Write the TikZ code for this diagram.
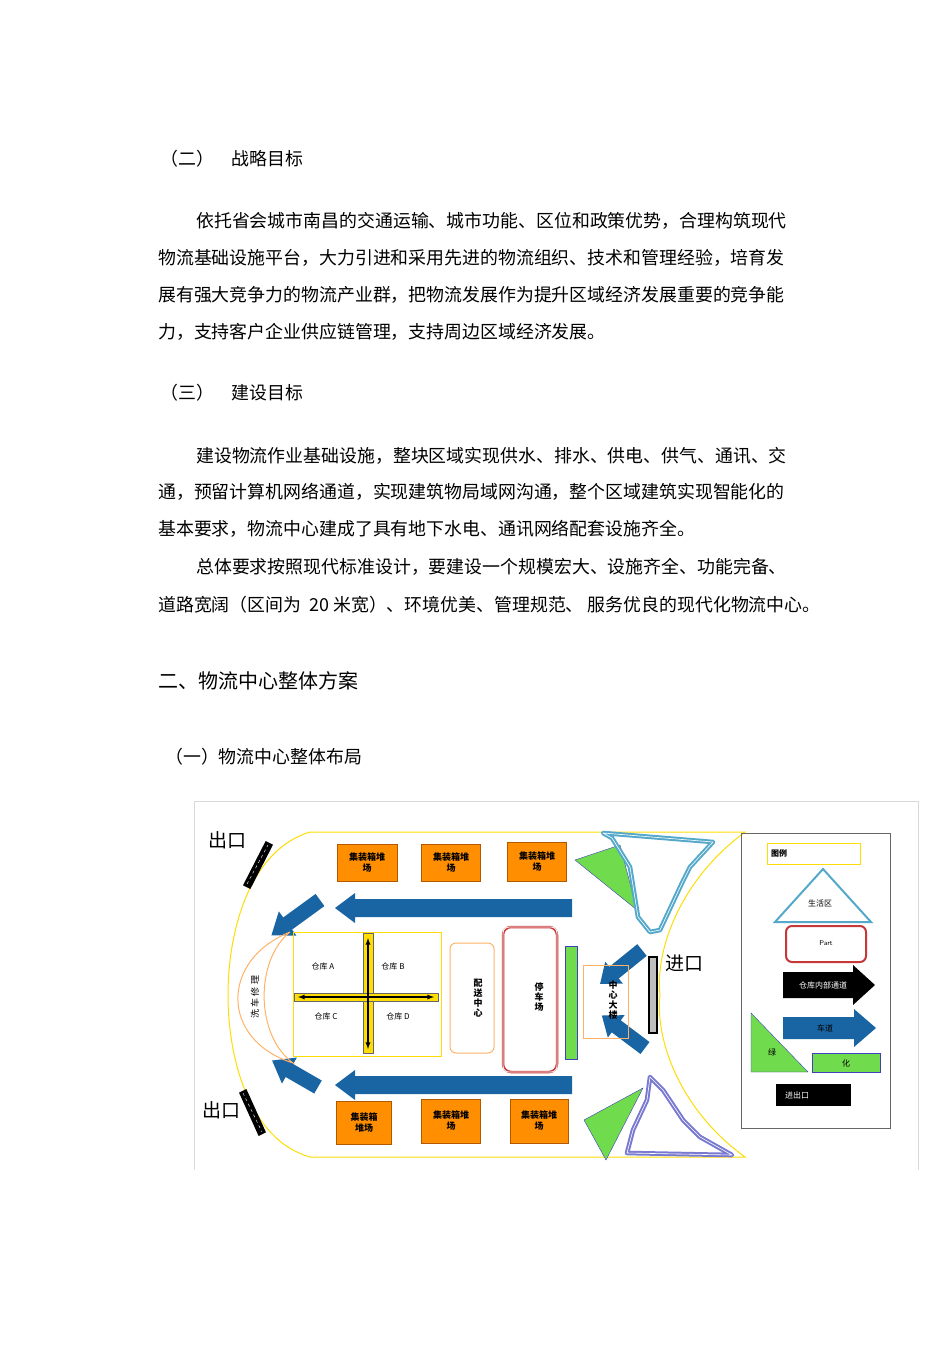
\documentclass[tikz,border=0pt]{standalone}
\usepackage{fontspec}
\setmainfont{Liberation Serif}
\newfontfamily\cjk{Noto Sans CJK SC}
\newcommand\blkarrow[8]{\fill[#8,shift={(#1,#2)},rotate=#3] (0,-#5/2) -- (#4-#7,-#5/2) -- (#4-#7,-#6/2) -- (#4,0) -- (#4-#7,#6/2) -- (#4-#7,#5/2) -- (0,#5/2) -- cycle;}
\begin{document}
\begin{tikzpicture}[x=1pt,y=-1pt,
 body/.style={anchor=west,inner sep=0,font=\cjk\fontsize{17.9}{20}\selectfont},
 box/.style={draw=orange!70!black,fill=orange!75!yellow!90!red,font=\cjk\bfseries\fontsize{9}{11}\selectfont,align=center,inner sep=0},
 ablue/.style={fill=blue!45!cyan!60!black!90},
 lbl/.style={font=\cjk\fontsize{8}{9}\selectfont,inner sep=0},
 bar/.style={draw=black,line width=1.5pt,fill=black},
 yl/.style={draw=yellow!80!orange,line width=1pt}]
\useasboundingbox (0,0) rectangle (950,1345);
\node[body] (t1) at (160,159) {（二）\quad 战略目标};
\node[body] (p1) at (196,221) {依托省会城市南昌的交通运输、城市功能、区位和政策优势，合理构筑现代};
\node[body] (p2) at (158,258) {物流基础设施平台，大力引进和采用先进的物流组织、技术和管理经验，培育发};
\node[body] (p3) at (158,295) {展有强大竞争力的物流产业群，把物流发展作为提升区域经济发展重要的竞争能};
\node[body] (p4) at (158,332) {力，支持客户企业供应链管理，支持周边区域经济发展。};
\node[body] (t2) at (160,393) {（三）\quad 建设目标};
\node[body] (q1) at (196,456) {建设物流作业基础设施，整块区域实现供水、排水、供电、供气、通讯、交};
\node[body] (q2) at (158,492) {通，预留计算机网络通道，实现建筑物局域网沟通，整个区域建筑实现智能化的};
\node[body] (q3) at (158,529) {基本要求，物流中心建成了具有地下水电、通讯网络配套设施齐全。};
\node[body] (q4) at (196,567) {总体要求按照现代标准设计，要建设一个规模宏大、设施齐全、功能完备、};
\node[body] (q5) at (158,605) {道路宽阔（区间为\ \ 20 米宽）、环境优美、管理规范、\ 服务优良的现代化物流中心。};
\node[body,font=\cjk\fontsize{20}{22}\selectfont] (h2) at (158,681) {二、物流中心整体方案};
\node[body] (t3) at (165,757) {（一）物流中心整体布局};
% frame
\draw[gray!30] (194,1170) -- (194,801) -- (918,801) -- (918,1170);
% outline
\draw[yl] (310,832) -- (745,832) .. controls (680,880) and (655,950) .. (660,995) .. controls (655,1040) and (680,1110) .. (745,1157) -- (310,1157) .. controls (250,1140) and (228,1060) .. (228,995) .. controls (228,930) and (250,850) .. (310,832);
% exits
\draw[bar] (250,888) -- (272,845) -- (266,842) -- (244,885) -- cycle;
\draw[white,dashed,line width=0.4pt] (247,884) -- (268,845);
\draw[bar] (246,1090) -- (265,1132) -- (259,1135) -- (240,1093) -- cycle;
\draw[white,dashed,line width=0.4pt] (243,1093) -- (262,1132);
\draw[line width=1.5pt,fill=gray!50] (649,957) rectangle (657,1033);
\node[font=\cjk\fontsize{19}{20}\selectfont] (o1) at (227,840) {出口};
\node[font=\cjk\fontsize{19}{20}\selectfont] (o2) at (221,1110) {出口};
\node[font=\cjk\fontsize{19}{20}\selectfont] (i1) at (684,963) {进口};
% orange boxes
\node[box,minimum width=60,minimum height=37] (b1) at (367,863) {集装箱堆\\场};
\node[box,minimum width=59,minimum height=37] (b2) at (451,863) {集装箱堆\\场};
\node[box,minimum width=59,minimum height=39] (b3) at (537,862) {集装箱堆\\场};
\node[box,minimum width=55,minimum height=43] (b4) at (364,1123) {集装箱\\堆场};
\node[box,minimum width=59,minimum height=44] (b5) at (451,1121) {集装箱堆\\场};
\node[box,minimum width=58,minimum height=44] (b6) at (539,1121) {集装箱堆\\场};
% blue arrows
\blkarrow{572}{908}{180}{237}{18}{30}{20}{ablue}
\blkarrow{572}{1085}{180}{237}{18}{30}{20}{ablue}
\blkarrow{320}{900}{216}{60}{15}{30}{20}{ablue}
\blkarrow{318}{1087}{150}{53}{15}{30}{20}{ablue}
\blkarrow{642}{950}{219}{54}{15}{28}{18}{ablue}
\blkarrow{645}{1048}{143}{54}{15}{28}{18}{ablue}
% crescent
\draw[orange!60,line width=1pt] (290,932) .. controls (220,960) and (220,1040) .. (293,1063) .. controls (255,1035) and (255,960) .. (290,932);
\node[lbl,rotate=90,font=\cjk\fontsize{9}{10}\selectfont] (xc) at (255,997) {洗 车 修 理};
% warehouse
\draw[yl] (293,932) rectangle (441,1056);
\draw[draw=black!60,fill=yellow!80!orange] (363,933) rectangle (373,1053);
\draw[draw=black!60,fill=yellow!80!orange] (294,993) rectangle (438,1001);
\draw[<->,>=latex,line width=1.3pt] (368,938) -- (368,1049);
\draw[<->,>=latex,line width=1.3pt] (298,997) -- (434,997);
\node[lbl] (wa) at (323,966) {仓库 A};
\node[lbl] (wb) at (393,966) {仓库 B};
\node[lbl] (wc) at (326,1016) {仓库 C};
\node[lbl] (wd) at (398,1016) {仓库 D};
% centers
\draw[orange!60,line width=1pt,rounded corners=6] (450,943) rectangle (494,1053);
\node[font=\cjk\bfseries\fontsize{9}{10}\selectfont,align=center] (ps) at (478,998) {配\\送\\中\\心};
\draw[red!55!gray,line width=2.5pt,rounded corners=8] (503,927) rectangle (557,1072);
\draw[white,line width=0.8pt,rounded corners=6] (503,927) rectangle (557,1072);
\node[font=\cjk\bfseries\fontsize{9}{10}\selectfont,align=center] (tc) at (539,997) {停\\车\\场};
\draw[fill=green!60!olive!70,draw=blue!50!gray] (565,946) rectangle (577,1059);
\draw[orange!60,line width=1pt] (583,965) rectangle (628,1038);
\node[font=\cjk\bfseries\fontsize{9}{10}\selectfont,align=center] (zx) at (613,1000) {中\\心\\大\\楼};
% green triangles
\draw[fill=green!60!olive!70,draw=blue!50!gray] (575,860) -- (620,845) -- (637,910) -- cycle;
\draw[fill=green!60!olive!70,draw=blue!50!gray] (584,1120) -- (643,1088) -- (606,1160) -- cycle;
% irregular shapes
\draw[cyan!60!gray,line width=2pt,double=white,line join=round] (603,833) -- (713,842) -- (690,867) -- (682,883) -- (660,930) -- (650,932) -- (638,917) -- (630,867) -- (612,838) -- cycle;
\draw[blue!50!gray!70,line width=2pt,double=white,line join=round] (650,1077) -- (663,1090) -- (683,1120) -- (700,1137) -- (732,1155) -- (627,1153) -- (633,1130) -- (647,1100) -- cycle;
% legend
\draw[gray!80!black] (741,833) rectangle (890,1128);
\draw[yellow!80!orange] (767,843) rectangle (860,864);
\node[lbl,font=\cjk\bfseries\fontsize{8}{9}\selectfont] (tl) at (779,853) {图例};
\draw[cyan!60!gray,line width=2pt] (775,922) -- (871,922) -- (823,869) -- cycle;
\node[lbl] (sh) at (820,903) {生活区};
\draw[red!55!gray,line width=2pt,rounded corners=6] (786,926) rectangle (866,962);
\node[lbl,font=\sffamily\fontsize{7}{8}\selectfont] (pt) at (826,943) {Part};
\blkarrow{783}{985}{0}{92}{26}{40}{22}{black}
\node[lbl,white] (lat) at (823,985) {仓库内部通道};
\blkarrow{783}{1028}{0}{93}{22}{38}{22}{ablue}
\node[lbl] (lbt) at (825,1028) {车道};
\draw[fill=green!60!olive!70,draw=blue!50!gray] (751,1013) -- (751,1072) -- (808,1072) -- cycle;
\node[lbl] (lg) at (772,1052) {绿};
\draw[fill=green!60!olive!70,draw=blue!50!gray] (812,1053) rectangle (880,1072);
\node[lbl] (lh) at (846,1063) {化};
\draw[fill=black] (776,1084) rectangle (850,1105);
\node[lbl,white] (lj) at (797,1095) {进出口};
\end{tikzpicture}
\end{document}
